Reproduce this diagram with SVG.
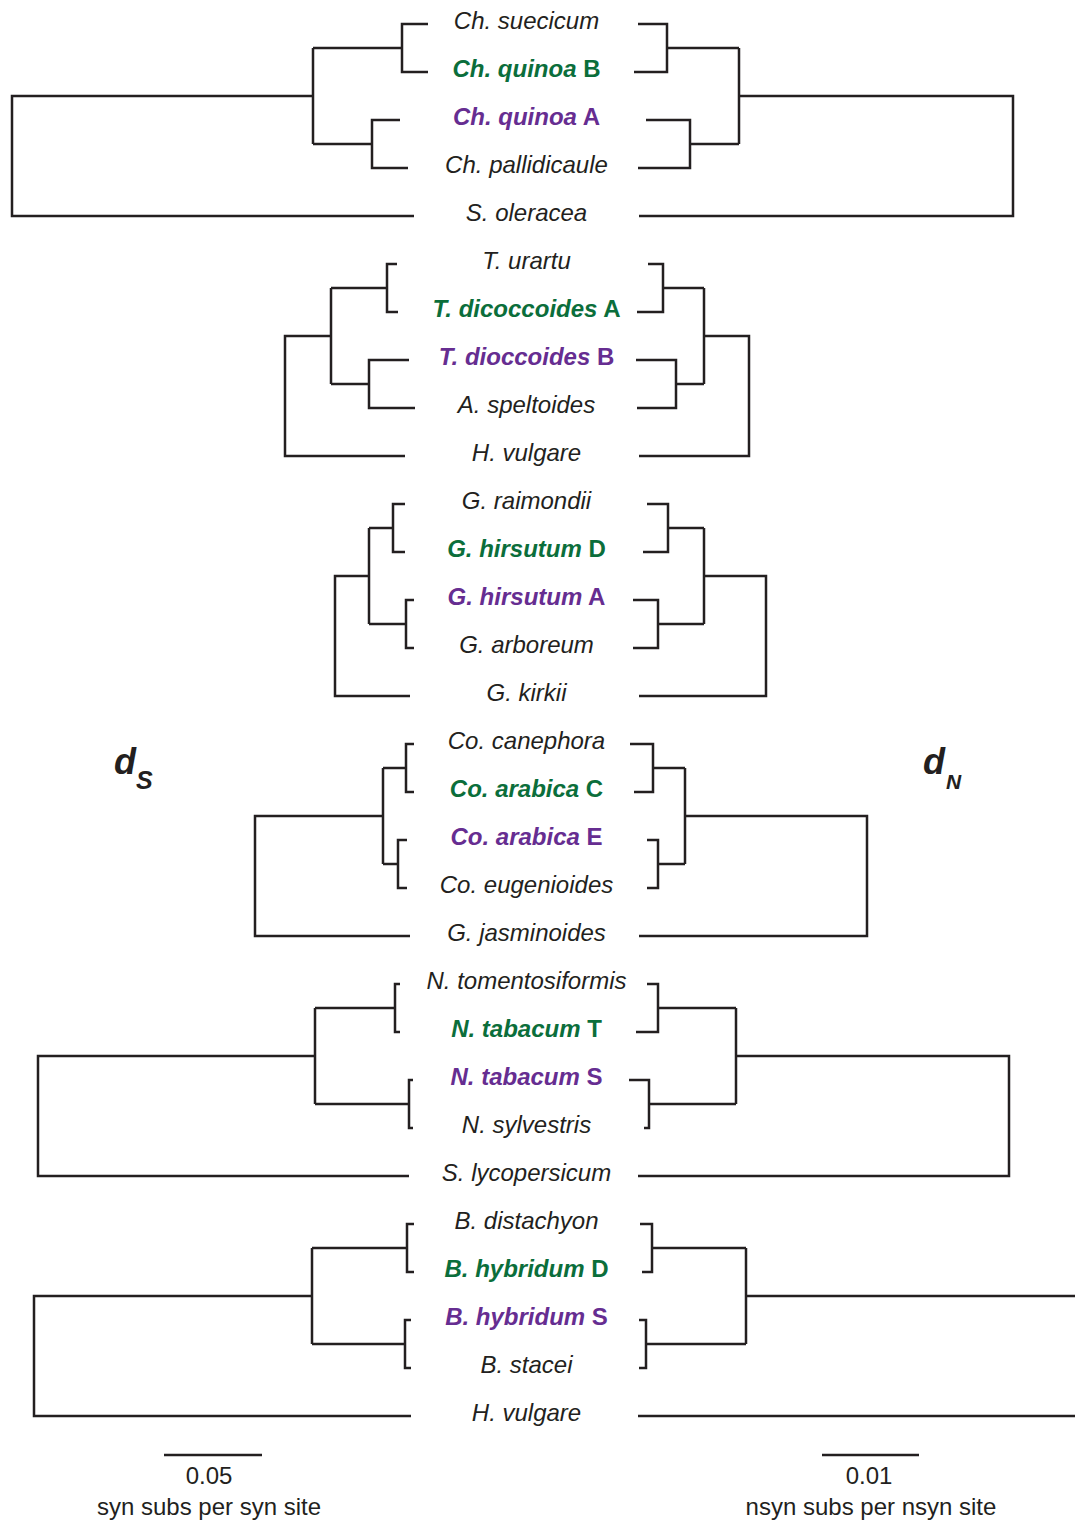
<svg xmlns="http://www.w3.org/2000/svg" width="1075" height="1520" viewBox="0 0 1075 1520">
<style>
.ln{fill:none;stroke:#231f20;stroke-width:2.5;stroke-linecap:butt;stroke-linejoin:miter}
text{font-family:"Liberation Sans",Arial,Helvetica,sans-serif;fill:#231f20}
.lab{font-size:24px;font-style:italic;text-anchor:middle}
.g{fill:#0b6e3b;font-weight:bold}
.p{fill:#662d91;font-weight:bold}
.up{font-style:normal}
.sc{font-size:24px;text-anchor:middle}
.d{font-size:36px;font-weight:bold;font-style:italic}
</style>
<rect width="1075" height="1520" fill="#ffffff"/>
<g id="connectors" class="ln">
<!-- tree 1 -->
<path d="M428,24 H402 V72 H428 M402,48 H313 M400,120 H372 V168 H408 M372,144 H313 M313,48 V144 M313,96 H12 V216 H414"/>
<path d="M638,24 H667 V72 H634 M667,48 H739 M646,120 H690 V168 H638 M690,144 H739 M739,48 V144 M739,96 H1013 V216 H639"/>
<!-- tree 2 -->
<path d="M397,264 H387 V312 H398 M387,288 H331 M409,360 H369 V408 H415 M369,384 H331 M331,288 V384 M331,336 H285 V456 H405"/>
<path d="M648,264 H663 V312 H637 M663,288 H704 M636,360 H676 V408 H637 M676,384 H704 M704,288 V384 M704,336 H749 V456 H639"/>
<!-- tree 3 -->
<path d="M405,504 H393 V552 H405 M393,528 H369 M414,600 H406 V648 H414 M406,624 H369 M369,528 V624 M369,576 H335 V696 H410"/>
<path d="M647,504 H668 V552 H643 M668,528 H704 M633,600 H658 V648 H633 M658,624 H704 M704,528 V624 M704,576 H766 V696 H639"/>
<!-- tree 4 -->
<path d="M414,744 H406 V792 H414 M406,768 H383 M407,840 H398 V888 H407 M398,864 H383 M383,768 V864 M383,816 H255 V936 H410"/>
<path d="M630,744 H653 V792 H634 M653,768 H685 M647,840 H658 V888 H647 M658,864 H685 M685,768 V864 M685,816 H867 V936 H639"/>
<!-- tree 5 -->
<path d="M400,984 H395 V1032 H400 M395,1008 H315 M413,1080 H409 V1128 H413 M409,1104 H315 M315,1008 V1104 M315,1056 H38 V1176 H409"/>
<path d="M647,984 H658 V1032 H636 M658,1008 H736 M629,1080 H649 V1128 H644 M649,1104 H736 M736,1008 V1104 M736,1056 H1009 V1176 H638"/>
<!-- tree 6 -->
<path d="M414,1224 H407 V1272 H414 M407,1248 H312 M411,1320 H405 V1368 H411 M405,1344 H312 M312,1248 V1344 M312,1296 H34 V1416 H411"/>
<path d="M640,1224 H652 V1272 H642 M652,1248 H746 M639,1320 H646 V1368 H639 M646,1344 H746 M746,1248 V1344 M746,1296 H1075 M638,1416 H1075"/>
<!-- scale bars -->
<path d="M164,1455 H262 M822,1455 H919"/>
</g>
<g id="n-ch-suecicum"><text class="lab" x="526.5" y="29">Ch. suecicum</text></g>
<g id="n-ch-quinoa-b"><text class="lab g" x="526.5" y="77">Ch. quinoa<tspan class="up"> B</tspan></text></g>
<g id="n-ch-quinoa-a"><text class="lab p" x="526.5" y="125">Ch. quinoa<tspan class="up"> A</tspan></text></g>
<g id="n-ch-pallidicaule"><text class="lab" x="526.5" y="173">Ch. pallidicaule</text></g>
<g id="n-s-oleracea"><text class="lab" x="526.5" y="221">S. oleracea</text></g>
<g id="n-t-urartu"><text class="lab" x="526.5" y="269">T. urartu</text></g>
<g id="n-t-dicoccoides-a"><text class="lab g" x="526.5" y="317">T. dicoccoides<tspan class="up"> A</tspan></text></g>
<g id="n-t-dioccoides-b"><text class="lab p" x="526.5" y="365">T. dioccoides<tspan class="up"> B</tspan></text></g>
<g id="n-a-speltoides"><text class="lab" x="526.5" y="413">A. speltoides</text></g>
<g id="n-h-vulgare-1"><text class="lab" x="526.5" y="461">H. vulgare</text></g>
<g id="n-g-raimondii"><text class="lab" x="526.5" y="509">G. raimondii</text></g>
<g id="n-g-hirsutum-d"><text class="lab g" x="526.5" y="557">G. hirsutum<tspan class="up"> D</tspan></text></g>
<g id="n-g-hirsutum-a"><text class="lab p" x="526.5" y="605">G. hirsutum<tspan class="up"> A</tspan></text></g>
<g id="n-g-arboreum"><text class="lab" x="526.5" y="653">G. arboreum</text></g>
<g id="n-g-kirkii"><text class="lab" x="526.5" y="701">G. kirkii</text></g>
<g id="n-co-canephora"><text class="lab" x="526.5" y="749">Co. canephora</text></g>
<g id="n-co-arabica-c"><text class="lab g" x="526.5" y="797">Co. arabica<tspan class="up"> C</tspan></text></g>
<g id="n-co-arabica-e"><text class="lab p" x="526.5" y="845">Co. arabica<tspan class="up"> E</tspan></text></g>
<g id="n-co-eugenioides"><text class="lab" x="526.5" y="893">Co. eugenioides</text></g>
<g id="n-g-jasminoides"><text class="lab" x="526.5" y="941">G. jasminoides</text></g>
<g id="n-n-tomentosiformis"><text class="lab" x="526.5" y="989">N. tomentosiformis</text></g>
<g id="n-n-tabacum-t"><text class="lab g" x="526.5" y="1037">N. tabacum<tspan class="up"> T</tspan></text></g>
<g id="n-n-tabacum-s"><text class="lab p" x="526.5" y="1085">N. tabacum<tspan class="up"> S</tspan></text></g>
<g id="n-n-sylvestris"><text class="lab" x="526.5" y="1133">N. sylvestris</text></g>
<g id="n-s-lycopersicum"><text class="lab" x="526.5" y="1181">S. lycopersicum</text></g>
<g id="n-b-distachyon"><text class="lab" x="526.5" y="1229">B. distachyon</text></g>
<g id="n-b-hybridum-d"><text class="lab g" x="526.5" y="1277">B. hybridum<tspan class="up"> D</tspan></text></g>
<g id="n-b-hybridum-s"><text class="lab p" x="526.5" y="1325">B. hybridum<tspan class="up"> S</tspan></text></g>
<g id="n-b-stacei"><text class="lab" x="526.5" y="1373">B. stacei</text></g>
<g id="n-h-vulgare-2"><text class="lab" x="526.5" y="1421">H. vulgare</text></g>
<g id="label-ds"><text class="d" x="114" y="774">d<tspan font-size="25" x="136" y="789">S</tspan></text></g>
<g id="label-dn"><text class="d" x="923" y="774">d<tspan font-size="21" x="946" y="789">N</tspan></text></g>
<g id="scale-ds"><text class="sc" x="209" y="1484">0.05</text><text class="sc" x="209" y="1515">syn subs per syn site</text></g>
<g id="scale-dn"><text class="sc" x="869" y="1484">0.01</text><text class="sc" x="871" y="1515">nsyn subs per nsyn site</text></g>
</svg>
